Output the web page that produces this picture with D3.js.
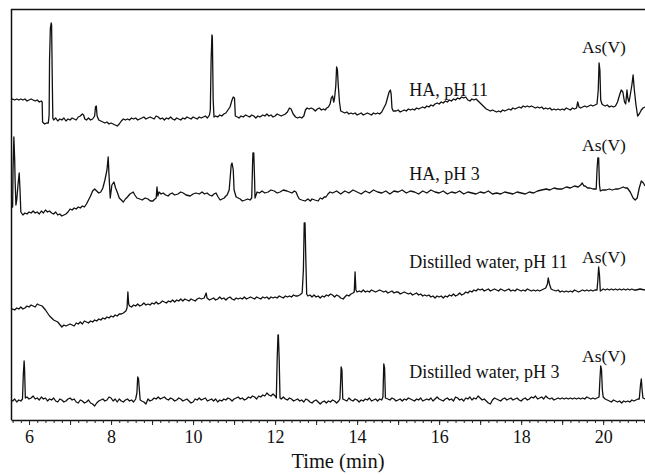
<!DOCTYPE html>
<html><head><meta charset="utf-8">
<script src="https://cdn.jsdelivr.net/npm/d3@7/dist/d3.min.js"></script>
<style>
html,body{margin:0;padding:0;background:#fff;}
svg{display:block;font-family:"Liberation Serif","Times New Roman",serif;}
</style></head>
<body>
<svg id="chart" width="645" height="475"></svg>
<script>
// ---- Data (time in min, detector signal in a.u.) ----
const seriesNames = ["HA, pH 11", "HA, pH 3", "Distilled water, pH 11", "Distilled water, pH 3"];
const peakLabel = "As(V)";
const xLabel = "Time (min)";
const tickLabels = [6, 8, 10, 12, 14, 16, 18, 20];

const ha11 = [[5.56,320],[5.6,321],[5.65,320],[5.7,321],[5.75,320],[5.8,321],[5.85,320],[5.9,321],[5.95,319],[6.0,320],[6.05,321],[6.1,320],[6.15,319],[6.2,320],[6.25,318],[6.3,319],[6.32,318],[6.33,298],[6.38,296],[6.43,297],[6.47,297],[6.49,305],[6.50,360],[6.52,392],[6.54,397],[6.55,395],[6.57,330],[6.58,302],[6.6,300],[6.65,302],[6.7,299],[6.75,301],[6.8,300],[6.85,302],[6.9,299],[6.95,301],[7.0,300],[7.05,302],[7.1,301],[7.15,300],[7.2,303],[7.25,304],[7.3,306],[7.33,305],[7.36,301],[7.4,300],[7.45,302],[7.5,300],[7.55,301],[7.6,304],[7.62,313],[7.64,314],[7.66,304],[7.7,300],[7.75,299],[7.8,298],[7.85,297],[7.9,298],[7.95,296],[8.0,297],[8.05,296],[8.1,295],[8.15,294],[8.2,296],[8.25,299],[8.3,301],[8.35,300],[8.4,301],[8.45,300],[8.5,302],[8.55,301],[8.6,302],[8.65,300],[8.7,301],[8.75,302],[8.8,303],[8.85,301],[8.9,302],[8.95,303],[9.0,302],[9.05,301],[9.1,304],[9.15,303],[9.2,301],[9.25,302],[9.3,300],[9.35,302],[9.4,301],[9.45,303],[9.5,301],[9.55,300],[9.6,302],[9.65,301],[9.7,300],[9.75,302],[9.8,301],[9.85,303],[9.9,302],[9.95,301],[10.0,303],[10.05,302],[10.1,301],[10.15,303],[10.2,302],[10.25,303],[10.3,304],[10.35,302],[10.4,305],[10.42,310],[10.44,360],[10.46,385],[10.47,383],[10.49,320],[10.51,303],[10.55,304],[10.6,303],[10.65,305],[10.7,304],[10.75,306],[10.8,307],[10.85,310],[10.9,313],[10.95,320],[10.98,323],[11.01,322],[11.03,304],[11.08,303],[11.12,302],[11.17,304],[11.22,303],[11.28,305],[11.33,304],[11.38,303],[11.43,305],[11.48,304],[11.53,302],[11.58,304],[11.63,303],[11.7,305],[11.75,304],[11.8,306],[11.85,304],[11.9,305],[11.95,303],[12.0,304],[12.05,306],[12.1,305],[12.15,304],[12.2,305],[12.25,306],[12.3,308],[12.35,312],[12.39,311],[12.44,306],[12.5,303],[12.55,302],[12.6,303],[12.65,302],[12.7,304],[12.74,310],[12.78,312],[12.83,311],[12.88,312],[12.93,311],[12.98,309],[13.03,311],[13.08,312],[13.13,310],[13.18,311],[13.22,310],[13.26,312],[13.3,313],[13.34,316],[13.37,322],[13.4,324],[13.43,318],[13.45,322],[13.48,334],[13.5,353],[13.52,350],[13.54,335],[13.57,318],[13.6,309],[13.65,308],[13.7,307],[13.75,308],[13.8,306],[13.85,307],[13.9,306],[13.95,307],[14.0,305],[14.05,306],[14.1,307],[14.15,305],[14.2,306],[14.25,307],[14.3,306],[14.35,305],[14.4,307],[14.45,306],[14.5,307],[14.55,306],[14.6,308],[14.65,312],[14.7,316],[14.74,322],[14.78,328],[14.81,330],[14.83,326],[14.85,312],[14.88,309],[14.95,309],[15.0,310],[15.05,308],[15.1,309],[15.15,310],[15.2,309],[15.25,311],[15.3,310],[15.35,311],[15.4,310],[15.45,312],[15.5,311],[15.55,312],[15.6,313],[15.65,312],[15.7,314],[15.75,313],[15.8,315],[15.85,314],[15.9,316],[15.95,317],[16.0,316],[16.05,318],[16.1,317],[16.15,319],[16.2,318],[16.25,320],[16.3,319],[16.35,321],[16.4,320],[16.45,322],[16.5,321],[16.55,323],[16.6,322],[16.65,323],[16.7,320],[16.75,319],[16.8,321],[16.85,320],[16.9,321],[16.95,319],[17.0,317],[17.05,315],[17.1,313],[17.15,311],[17.2,310],[17.25,309],[17.3,310],[17.35,309],[17.4,308],[17.45,309],[17.5,308],[17.55,310],[17.6,309],[17.65,310],[17.7,311],[17.75,310],[17.8,312],[17.85,311],[17.9,312],[17.95,313],[18.0,312],[18.05,314],[18.1,313],[18.15,314],[18.2,313],[18.25,314],[18.3,313],[18.35,312],[18.4,313],[18.45,312],[18.5,313],[18.55,311],[18.6,312],[18.65,311],[18.7,312],[18.75,310],[18.8,311],[18.85,310],[18.9,311],[18.95,310],[19.0,311],[19.05,310],[19.1,312],[19.15,311],[19.2,310],[19.25,312],[19.3,311],[19.35,312],[19.38,318],[19.41,313],[19.45,312],[19.5,313],[19.55,314],[19.6,313],[19.65,314],[19.7,315],[19.75,314],[19.8,315],[19.85,316],[19.88,330],[19.9,357],[19.92,350],[19.94,320],[19.97,316],[20.0,315],[20.05,314],[20.1,315],[20.15,313],[20.2,314],[20.25,313],[20.3,314],[20.35,318],[20.4,325],[20.44,330],[20.48,328],[20.52,318],[20.55,316],[20.58,330],[20.6,322],[20.63,318],[20.66,325],[20.7,335],[20.73,345],[20.76,330],[20.8,315],[20.84,304],[20.88,306],[20.93,310],[20.97,312],[21.02,313]];

const ha3 = [[5.56,213],[5.6,213],[5.61,250],[5.63,283],[5.65,260],[5.66,240],[5.68,215],[5.7,220],[5.73,235],[5.76,247],[5.78,230],[5.8,208],[5.85,205],[5.9,207],[5.95,206],[6.0,208],[6.05,207],[6.1,209],[6.15,207],[6.2,208],[6.25,206],[6.3,209],[6.35,207],[6.4,210],[6.45,208],[6.5,209],[6.55,207],[6.6,206],[6.65,208],[6.7,205],[6.75,206],[6.8,204],[6.85,205],[6.9,206],[6.95,208],[7.0,211],[7.05,210],[7.1,212],[7.15,211],[7.2,213],[7.25,212],[7.3,214],[7.35,213],[7.4,216],[7.45,220],[7.5,224],[7.55,229],[7.6,231],[7.65,229],[7.7,227],[7.75,228],[7.8,232],[7.85,240],[7.9,250],[7.93,263],[7.95,245],[7.98,222],[8.02,235],[8.07,238],[8.11,232],[8.15,228],[8.2,222],[8.25,220],[8.3,218],[8.35,221],[8.4,223],[8.46,226],[8.54,228],[8.58,225],[8.63,222],[8.7,221],[8.76,220],[8.83,222],[8.9,221],[8.96,219],[9.02,219],[9.07,221],[9.10,222],[9.12,233],[9.14,224],[9.17,228],[9.22,226],[9.27,227],[9.33,225],[9.39,224],[9.44,226],[9.49,227],[9.55,225],[9.63,226],[9.7,228],[9.76,227],[9.83,225],[9.93,224],[10.0,226],[10.07,227],[10.15,226],[10.22,228],[10.28,226],[10.34,227],[10.4,225],[10.46,224],[10.51,226],[10.56,227],[10.61,223],[10.66,220],[10.71,221],[10.76,222],[10.8,224],[10.83,225],[10.88,230],[10.91,245],[10.93,255],[10.95,257],[10.98,250],[11.0,230],[11.05,223],[11.1,222],[11.15,221],[11.2,219],[11.27,220],[11.33,221],[11.39,220],[11.43,222],[11.45,255],[11.46,267],[11.48,267],[11.50,240],[11.51,222],[11.56,228],[11.62,227],[11.68,229],[11.75,227],[11.83,228],[11.9,230],[11.98,229],[12.05,227],[12.12,228],[12.2,230],[12.29,229],[12.35,228],[12.41,227],[12.47,229],[12.51,228],[12.55,224],[12.59,221],[12.65,220],[12.73,219],[12.8,221],[12.86,219],[12.9,221],[12.97,220],[13.05,219],[13.1,222],[13.15,221],[13.2,223],[13.24,223],[13.29,226],[13.34,228],[13.4,227],[13.5,229],[13.6,226],[13.7,229],[13.8,227],[13.9,230],[14.0,228],[14.1,226],[14.2,229],[14.3,227],[14.4,230],[14.5,228],[14.6,227],[14.7,229],[14.8,226],[14.9,229],[15.0,228],[15.1,230],[15.2,227],[15.3,229],[15.4,228],[15.5,226],[15.6,229],[15.7,227],[15.8,230],[15.9,228],[16.0,227],[16.1,229],[16.2,226],[16.3,228],[16.4,227],[16.5,229],[16.6,226],[16.7,228],[16.8,227],[16.9,226],[17.0,228],[17.1,227],[17.2,229],[17.3,226],[17.4,227],[17.5,226],[17.6,228],[17.7,227],[17.8,226],[17.9,228],[18.0,227],[18.1,226],[18.2,228],[18.3,227],[18.4,229],[18.5,230],[18.61,231],[18.7,230],[18.8,232],[18.9,231],[19.0,231],[19.1,233],[19.2,232],[19.3,234],[19.39,233],[19.45,235],[19.49,237],[19.53,234],[19.56,234],[19.62,232],[19.68,232],[19.75,231],[19.83,231],[19.85,250],[19.87,262],[19.89,262],[19.91,235],[19.93,229],[19.98,230],[20.07,230],[20.15,231],[20.22,230],[20.3,231],[20.37,231],[20.43,232],[20.49,233],[20.54,232],[20.59,232],[20.66,228],[20.73,222],[20.78,220],[20.83,222],[20.88,232],[20.93,239],[20.98,237],[21.02,234]];

const dw11 = [[5.56,110],[5.6,111],[5.65,110],[5.7,112],[5.75,111],[5.8,113],[5.85,111],[5.9,112],[5.95,114],[6.0,113],[6.05,115],[6.1,114],[6.15,113],[6.2,116],[6.25,115],[6.32,114],[6.4,110],[6.5,104],[6.6,100],[6.7,98],[6.8,93],[6.85,95],[6.9,94],[7.0,96],[7.05,95],[7.1,94],[7.15,97],[7.2,96],[7.25,98],[7.3,96],[7.35,99],[7.4,98],[7.45,97],[7.5,99],[7.55,98],[7.6,100],[7.65,99],[7.7,101],[7.75,100],[7.8,102],[7.85,101],[7.9,103],[7.95,102],[8.0,104],[8.05,103],[8.1,105],[8.15,104],[8.2,106],[8.25,106],[8.3,107],[8.36,109],[8.39,112],[8.41,128],[8.43,116],[8.45,114],[8.5,113],[8.55,115],[8.6,114],[8.65,116],[8.7,114],[8.75,115],[8.8,117],[8.85,115],[8.9,116],[8.95,115],[9.0,117],[9.05,116],[9.1,118],[9.15,116],[9.2,117],[9.25,119],[9.3,118],[9.35,117],[9.4,119],[9.45,118],[9.5,120],[9.55,118],[9.6,120],[9.65,119],[9.7,121],[9.75,119],[9.8,121],[9.85,120],[9.9,119],[9.95,121],[10.0,120],[10.05,119],[10.1,121],[10.15,122],[10.2,121],[10.27,122],[10.3,125],[10.32,127],[10.34,122],[10.4,120],[10.45,121],[10.5,122],[10.55,120],[10.6,121],[10.65,123],[10.7,121],[10.75,122],[10.8,120],[10.85,122],[10.9,123],[10.95,121],[11.0,120],[11.05,122],[11.1,121],[11.15,122],[11.2,121],[11.25,123],[11.3,121],[11.35,122],[11.4,123],[11.45,122],[11.5,121],[11.55,123],[11.6,122],[11.65,121],[11.7,123],[11.75,122],[11.8,123],[11.85,121],[11.9,123],[11.95,122],[12.0,123],[12.05,122],[12.1,124],[12.15,123],[12.2,122],[12.25,124],[12.3,123],[12.35,124],[12.4,123],[12.45,125],[12.5,124],[12.55,124],[12.6,125],[12.66,127],[12.69,150],[12.71,197],[12.73,197],[12.75,160],[12.77,126],[12.8,124],[12.85,125],[12.9,123],[12.95,125],[13.0,123],[13.05,124],[13.1,122],[13.15,124],[13.2,123],[13.25,125],[13.3,124],[13.35,126],[13.4,125],[13.45,123],[13.5,125],[13.55,124],[13.6,122],[13.66,121],[13.7,123],[13.75,125],[13.8,124],[13.85,126],[13.9,127],[13.93,128],[13.95,148],[13.97,130],[14.0,128],[14.05,129],[14.1,128],[14.15,130],[14.2,128],[14.25,129],[14.3,128],[14.35,130],[14.4,129],[14.45,128],[14.5,129],[14.55,130],[14.6,129],[14.65,128],[14.7,129],[14.75,127],[14.8,128],[14.85,129],[14.9,127],[14.95,128],[15.0,128],[15.05,126],[15.1,127],[15.15,128],[15.2,127],[15.25,126],[15.3,127],[15.35,125],[15.4,126],[15.45,127],[15.5,125],[15.55,126],[15.6,124],[15.65,125],[15.7,124],[15.75,125],[15.8,123],[15.85,124],[15.9,122],[15.95,124],[16.0,123],[16.05,124],[16.1,122],[16.15,124],[16.2,123],[16.25,125],[16.3,124],[16.35,126],[16.4,124],[16.45,125],[16.5,127],[16.55,125],[16.6,126],[16.65,128],[16.7,127],[16.75,129],[16.8,128],[16.85,130],[16.9,129],[16.95,131],[17.0,130],[17.05,131],[17.1,129],[17.15,130],[17.2,131],[17.25,129],[17.3,130],[17.35,131],[17.4,130],[17.45,129],[17.5,131],[17.55,130],[17.6,129],[17.65,130],[17.7,131],[17.75,129],[17.8,130],[17.85,129],[17.9,131],[17.95,130],[18.0,129],[18.05,130],[18.1,129],[18.15,131],[18.2,130],[18.25,129],[18.3,130],[18.35,129],[18.4,130],[18.45,129],[18.5,130],[18.55,131],[18.6,132],[18.64,136],[18.66,142],[18.69,136],[18.73,131],[18.78,130],[18.85,129],[18.9,130],[18.95,128],[19.0,129],[19.05,128],[19.1,129],[19.15,128],[19.2,129],[19.25,128],[19.3,130],[19.35,129],[19.4,128],[19.45,129],[19.5,130],[19.55,129],[19.6,130],[19.65,129],[19.7,130],[19.75,129],[19.8,130],[19.85,130],[19.87,140],[19.89,153],[19.91,145],[19.93,129],[19.97,130],[20.0,131],[20.05,130],[20.1,131],[20.15,130],[20.2,131],[20.25,130],[20.3,131],[20.35,130],[20.4,131],[20.45,130],[20.5,131],[20.55,130],[20.6,131],[20.65,130],[20.7,131],[20.75,130],[20.8,130],[20.9,131],[21.02,130]];

const dw3 = [[5.56,20],[5.6,19],[5.65,21],[5.7,18],[5.75,20],[5.8,19],[5.84,21],[5.86,45],[5.88,59],[5.89,52],[5.91,22],[5.95,23],[6.0,21],[6.05,22],[6.1,24],[6.15,21],[6.2,22],[6.25,20],[6.3,23],[6.35,21],[6.4,22],[6.45,19],[6.5,21],[6.55,20],[6.6,22],[6.65,19],[6.7,18],[6.75,21],[6.8,20],[6.85,18],[6.9,19],[6.95,21],[7.0,22],[7.05,20],[7.1,21],[7.15,18],[7.2,17],[7.25,20],[7.3,19],[7.35,17],[7.4,18],[7.45,20],[7.5,17],[7.55,16],[7.6,14],[7.65,17],[7.7,19],[7.75,20],[7.8,21],[7.85,19],[7.9,20],[7.95,23],[8.0,22],[8.05,19],[8.1,21],[8.15,18],[8.2,21],[8.25,19],[8.3,18],[8.35,20],[8.4,21],[8.45,19],[8.5,20],[8.55,18],[8.6,21],[8.63,27],[8.65,43],[8.67,41],[8.69,30],[8.71,20],[8.75,19],[8.8,18],[8.85,16],[8.9,21],[8.95,19],[9.0,20],[9.05,22],[9.1,21],[9.15,23],[9.2,21],[9.25,22],[9.3,23],[9.35,21],[9.4,20],[9.45,22],[9.5,21],[9.55,19],[9.6,20],[9.65,22],[9.7,21],[9.75,19],[9.8,20],[9.85,21],[9.9,19],[9.95,17],[10.0,18],[10.05,21],[10.1,20],[10.15,22],[10.2,20],[10.25,21],[10.3,22],[10.35,19],[10.4,20],[10.45,21],[10.5,19],[10.55,21],[10.6,18],[10.65,20],[10.7,19],[10.75,21],[10.8,20],[10.85,22],[10.9,21],[10.95,19],[11.0,21],[11.05,22],[11.1,23],[11.15,21],[11.2,22],[11.25,20],[11.3,21],[11.35,23],[11.4,22],[11.45,24],[11.5,23],[11.55,21],[11.6,24],[11.65,23],[11.7,25],[11.75,24],[11.8,27],[11.85,25],[11.9,24],[11.95,26],[12.0,24],[12.03,22],[12.05,60],[12.07,85],[12.08,85],[12.1,60],[12.12,22],[12.15,21],[12.2,23],[12.25,21],[12.3,20],[12.35,22],[12.4,21],[12.45,19],[12.5,20],[12.55,21],[12.6,19],[12.65,20],[12.7,18],[12.75,21],[12.8,20],[12.85,18],[12.9,17],[12.95,19],[13.0,20],[13.05,18],[13.1,16],[13.15,18],[13.2,19],[13.25,17],[13.3,19],[13.35,18],[13.4,20],[13.45,19],[13.5,17],[13.55,19],[13.58,21],[13.6,40],[13.61,53],[13.63,50],[13.65,21],[13.7,20],[13.75,19],[13.8,22],[13.85,20],[13.9,19],[13.95,21],[14.0,20],[14.05,18],[14.1,20],[14.15,19],[14.2,21],[14.25,20],[14.3,22],[14.35,19],[14.4,20],[14.45,21],[14.5,19],[14.55,21],[14.6,20],[14.63,23],[14.65,56],[14.67,52],[14.69,22],[14.75,21],[14.8,20],[14.85,22],[14.9,21],[14.95,19],[15.0,20],[15.05,21],[15.1,19],[15.15,21],[15.2,20],[15.25,22],[15.3,21],[15.35,20],[15.4,19],[15.45,21],[15.5,20],[15.55,22],[15.6,19],[15.65,20],[15.7,21],[15.75,20],[15.8,22],[15.85,19],[15.9,21],[15.95,23],[16.0,21],[16.05,20],[16.1,19],[16.15,21],[16.2,22],[16.25,20],[16.3,21],[16.35,19],[16.4,23],[16.45,22],[16.5,20],[16.55,21],[16.6,19],[16.65,22],[16.7,21],[16.75,23],[16.8,20],[16.85,22],[16.9,21],[16.95,24],[17.0,22],[17.05,20],[17.1,21],[17.15,19],[17.2,17],[17.25,16],[17.3,20],[17.35,22],[17.4,21],[17.45,20],[17.5,19],[17.55,21],[17.6,22],[17.65,20],[17.7,21],[17.75,22],[17.8,20],[17.85,21],[17.9,22],[17.95,20],[18.0,19],[18.05,21],[18.1,22],[18.15,20],[18.2,21],[18.25,23],[18.3,22],[18.35,24],[18.4,21],[18.45,22],[18.5,23],[18.55,21],[18.6,24],[18.65,22],[18.7,21],[18.75,22],[18.8,20],[18.85,21],[18.9,22],[18.95,21],[19.0,22],[19.05,21],[19.1,22],[19.15,21],[19.2,22],[19.25,21],[19.3,22],[19.35,21],[19.4,22],[19.45,21],[19.5,22],[19.55,21],[19.6,23],[19.65,22],[19.7,21],[19.75,22],[19.8,21],[19.85,22],[19.9,23],[19.92,40],[19.94,54],[19.96,50],[19.98,30],[20.0,23],[20.05,21],[20.1,20],[20.15,19],[20.2,18],[20.25,20],[20.3,19],[20.35,18],[20.4,19],[20.45,17],[20.5,19],[20.55,18],[20.6,19],[20.65,18],[20.7,20],[20.75,19],[20.8,20],[20.85,21],[20.88,21],[20.91,35],[20.93,41],[20.95,30],[20.97,22],[21.02,21]];

const traces = [ha11, ha3, dw11, dw3];
// label anchors: [time, signal]
const nameAnchors = [[15.27, 324], [15.27, 240], [15.27, 152], [15.27, 42]];
const asAnchors = [[20.02, 367], [20.02, 269], [20.02, 157], [20.02, 58]];

// ---- Layout ----
const svg = d3.select("#chart");
const mLeft = 11, mRight = 645, mTop = 9, mBottom = 420;
const x = d3.scaleLinear().domain([5.56, 21.02]).range([mLeft, mRight]);
const y = d3.scaleLinear().domain([0, 411]).range([mBottom, mTop]);

svg.append("defs").append("clipPath").attr("id", "clip")
  .append("rect").attr("x", mLeft).attr("y", mTop).attr("width", mRight - mLeft).attr("height", mBottom - mTop);

const line = d3.line().x(d => x(d[0])).y(d => y(d[1]));

svg.append("g").attr("clip-path", "url(#clip)")
  .selectAll("path").data(traces).join("path")
  .attr("d", line)
  .attr("fill", "none")
  .attr("stroke", "#111")
  .attr("stroke-width", 1.3)
  .attr("stroke-linejoin", "round");

// frame: top and left
svg.append("line").attr("x1", mLeft).attr("x2", mRight).attr("y1", mTop + 0.5).attr("y2", mTop + 0.5)
  .attr("stroke", "#111").attr("stroke-width", 1.5);
svg.append("line").attr("x1", mLeft + 0.5).attr("x2", mLeft + 0.5).attr("y1", mTop).attr("y2", mBottom)
  .attr("stroke", "#111").attr("stroke-width", 1.5);

// axis
const minorTicks = d3.range(5.6, 21.01, 0.2).map(v => +v.toFixed(1));
const majorTicks = d3.range(6, 21, 1);
const gMinor = svg.append("g").attr("transform", `translate(0,${mBottom})`)
  .call(d3.axisBottom(x).tickValues(minorTicks).tickSize(3).tickSizeOuter(0).tickFormat(""));
gMinor.select(".domain").attr("stroke", "#111").attr("stroke-width", 1.5);
gMinor.selectAll(".tick line").attr("stroke", "#222");
const gMajor = svg.append("g").attr("transform", `translate(0,${mBottom})`)
  .call(d3.axisBottom(x).tickValues(majorTicks).tickSize(5).tickPadding(5)
    .tickFormat(d => tickLabels.includes(d) ? String(d) : ""));
gMajor.select(".domain").remove();
gMajor.selectAll(".tick line").attr("stroke", "#222");
gMajor.selectAll(".tick text").attr("font-family", "Liberation Serif").attr("font-size", 18).attr("fill", "#111");

svg.append("text").attr("x", 338).attr("y", 468).attr("text-anchor", "middle")
  .attr("font-family", "Liberation Serif")
  .attr("font-size", 20.5).attr("fill", "#111").text(xLabel);

// labels
svg.append("g").selectAll("text").data(seriesNames).join("text")
  .attr("x", (d, i) => x(nameAnchors[i][0]))
  .attr("y", (d, i) => y(nameAnchors[i][1]))
  .attr("font-family", "Liberation Serif")
  .attr("font-size", 18).attr("fill", "#111").text(d => d);
svg.append("g").selectAll("text").data(asAnchors).join("text")
  .attr("x", d => x(d[0])).attr("y", d => y(d[1]))
  .attr("text-anchor", "middle")
  .attr("font-family", "Liberation Serif")
  .attr("font-size", 17.5).attr("fill", "#111").text(peakLabel);
</script>
</body></html>
